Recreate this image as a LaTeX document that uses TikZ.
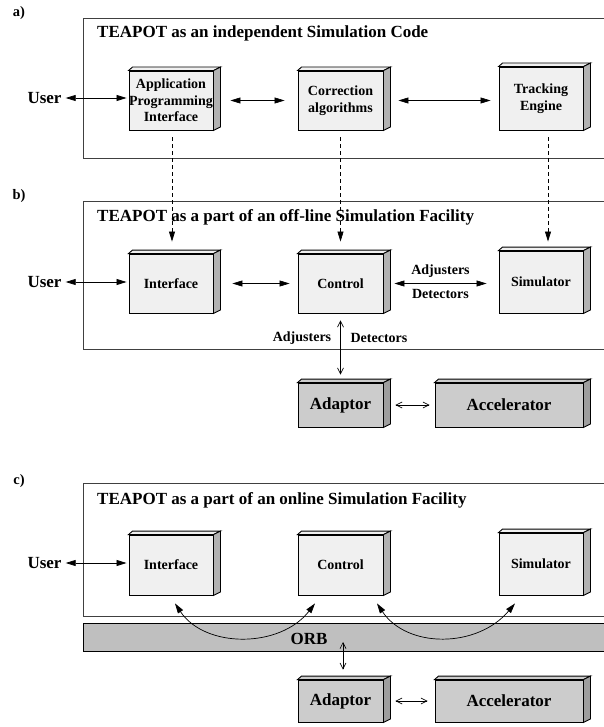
\documentclass[tikz,border=0pt]{standalone}
\usepackage{fontspec}
\setmainfont{Liberation Serif}
\usepackage{xcolor}
\usepackage{tikz}
\usetikzlibrary{arrows.meta,calc}

\definecolor{facegray}{gray}{0.94}
\definecolor{sidegray}{gray}{0.70}
\definecolor{hwgray}{gray}{0.80}
\definecolor{hwside}{gray}{0.62}
\definecolor{orbgray}{gray}{0.75}

\tikzset{
  bigtxt/.style={font=\fontsize{17}{19}\selectfont\bfseries},
  boxtxt/.style={font=\fontsize{14}{16.5}\selectfont\bfseries, align=center},
  soft/.style={draw, fill=facegray, line width=0.9pt, inner sep=0pt, boxtxt},
  hard/.style={draw, fill=hwgray, line width=0.9pt, inner sep=0pt, bigtxt},
  frame/.style={draw=black!75, line width=0.9pt},
  link/.style={{Triangle[length=10pt,width=6pt]}-{Triangle[length=10pt,width=6pt]}, line width=0.7pt},
  thinlink/.style={{Straight Barb[length=6pt,width=6pt]}-{Straight Barb[length=6pt,width=6pt]}, line width=0.6pt},
  dashlink/.style={-{Triangle[length=10pt,width=6pt]}, dash pattern=on 4pt off 3pt, line width=0.7pt},
}

% top and side face of a box node
\newcommand\cubeside[3]{%
  \draw[line width=0.9pt, fill=#2] (#1.north west) -- ++(4,-3.5) -- ([shift={(7,-3.5)}]#1.north east) -- (#1.north east) -- cycle;
  \draw[line width=0.9pt, fill=#3] (#1.north east) -- ++(7,-3.5) -- ([shift={(7,-3.5)}]#1.south east) -- (#1.south east) -- cycle;
}

\begin{document}
\begin{tikzpicture}[x=1pt, y=-1pt]
    \useasboundingbox (0,0) rectangle (603,727);

    % a) independent code
    \node[bigtxt, font=\fontsize{14.5}{16}\selectfont\bfseries] (la) at (19,13) {a)};
    \draw[frame] (83,18) rectangle (612,158);
    \node[bigtxt, anchor=base west, inner sep=0pt] (ta) at (97,38) {TEAPOT as an independent Simulation Code};
    \node[bigtxt, inner sep=2pt] (user1) at (44.5,98) {User};
    \node[soft, minimum width=84, minimum height=59] (api) at (171,100.5) {Application\\Programming\\Interface};
    \node[soft, minimum width=85, minimum height=59] (cor) at (340.5,100.5) {Correction\\algorithms};
    \node[soft, minimum width=84, minimum height=63] (trk) at (541,98.5) {Tracking\\Engine};
    \cubeside{api}{facegray}{sidegray}
    \cubeside{cor}{facegray}{sidegray}
    \cubeside{trk}{facegray}{sidegray}
    \draw[link, shorten <=2pt, shorten >=2pt] (user1.east) -- (user1.east -| api.west);
    \draw[link] ([xshift=17pt]api.east) -- ([xshift=-13pt]cor.west);
    \draw[link] ([xshift=15pt]cor.east) -- ([xshift=-8pt]cor.east -| trk.west);

    % b) off-line facility
    \node[bigtxt, font=\fontsize{14.5}{16}\selectfont\bfseries] (lb) at (19,196) {b)};
    \draw[frame] (83,201) rectangle (612,349);
    \node[bigtxt, anchor=base west, inner sep=0pt] (tb) at (97,222) {TEAPOT as a part of an off-line Simulation Facility};
    \node[bigtxt, inner sep=2pt] (user2) at (44.5,282) {User};
    \node[soft, minimum width=84, minimum height=59] (if2) at (171,283.5) {Interface};
    \node[soft, minimum width=85, minimum height=59] (ct2) at (340.5,283.5) {Control};
    \node[soft, minimum width=84, minimum height=62] (sm2) at (541,282) {Simulator};
    \node[hard, minimum width=85, minimum height=44] (ad2) at (340.5,405) {Adaptor};
    \node[hard, minimum width=148, minimum height=44] (ac2) at (509,405) {Accelerator};
    \cubeside{if2}{facegray}{sidegray}
    \cubeside{ct2}{facegray}{sidegray}
    \cubeside{sm2}{facegray}{sidegray}
    \cubeside{ad2}{hwgray}{hwside}
    \cubeside{ac2}{hwgray}{hwside}
    \draw[link, shorten <=2pt, shorten >=2pt] (user2.east) -- (user2.east -| if2.west);
    \draw[link] ([xshift=19pt]if2.east) -- ([xshift=-8pt]ct2.west);
    \draw[link] ([xshift=11pt]ct2.east) -- ([xshift=-12pt]ct2.east -| sm2.west)
        node[boxtxt, midway, above=2pt] {Adjusters}
        node[boxtxt, midway, below=2pt] {Detectors};
    \draw[thinlink] ([yshift=-7pt]ct2.south) -- ([yshift=8pt]ad2.north);
    \node[boxtxt] (adj) at (302,338) {Adjusters};
    \node[boxtxt] (det) at (379,338) {Detectors};
    \draw[thinlink] ([xshift=12pt]ad2.east) -- ([xshift=-5pt]ac2.west);

    % dashed correspondences a) -> b)
    \draw[dashlink] ([shift={(1,7)}]api.south) -- ([shift={(1,-12)}]if2.north);
    \draw[dashlink] ([yshift=-7pt]cor.south) -- ([yshift=12pt]ct2.north);
    \draw[dashlink] ([shift={(7,7)}]trk.south) -- ([shift={(7,-9)}]sm2.north);

    % c) online facility
    \node[bigtxt, font=\fontsize{14.5}{16}\selectfont\bfseries] (lc) at (19,481) {c)};
    \draw[frame] (83,483) rectangle (612,616);
    \node[bigtxt, anchor=base west, inner sep=0pt] (tc) at (97,504) {TEAPOT as a part of an online Simulation Facility};
    \node[draw, fill=orbgray, line width=0.9pt, minimum width=529, minimum height=28, anchor=north west] (orb) at (83,623) {};
    \node[bigtxt] (orbtxt) at (309,639) {ORB};
    \node[bigtxt, inner sep=2pt] (user3) at (44.5,563) {User};
    \node[soft, minimum width=84, minimum height=60] (if3) at (171,565) {Interface};
    \node[soft, minimum width=85, minimum height=60] (ct3) at (340.5,565) {Control};
    \node[soft, minimum width=84, minimum height=62] (sm3) at (541,564) {Simulator};
    \node[hard, minimum width=85, minimum height=42] (ad3) at (340.5,701) {Adaptor};
    \node[hard, minimum width=148, minimum height=42] (ac3) at (509,701) {Accelerator};
    \cubeside{if3}{facegray}{sidegray}
    \cubeside{ct3}{facegray}{sidegray}
    \cubeside{sm3}{facegray}{sidegray}
    \cubeside{ad3}{hwgray}{hwside}
    \cubeside{ac3}{hwgray}{hwside}
    \draw[link, shorten <=2pt, shorten >=2pt] (user3.east) -- (user3.east -| if3.west);
    \draw[link] ([shift={(4,8)}]if3.south) .. controls +(30,45) and +(-35,45) .. ([shift={(-25.5,8)}]ct3.south);
    \draw[link] ([shift={(36.5,8)}]ct3.south) .. controls +(30,45) and +(-38,45) .. ([shift={(-26,8)}]sm3.south);
    \coordinate (orbtap) at (343,642);
    \draw[thinlink] (orbtap) -- ([shift={(2.5,-10)}]ad3.north);
    \draw[thinlink] ([xshift=12pt]ad3.east) -- ([xshift=-7pt]ac3.west);
\end{tikzpicture}
\end{document}
